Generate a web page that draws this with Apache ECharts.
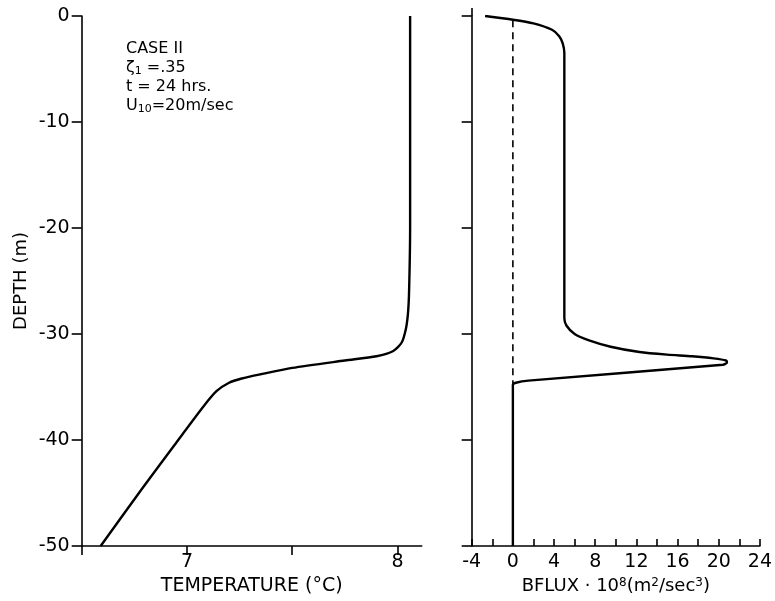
<!DOCTYPE html>
<html>
<head>
<meta charset="utf-8">
<script src="https://cdn.jsdelivr.net/npm/echarts@6/dist/echarts.min.js"></script>
<style>html,body{margin:0;padding:0;background:#fff}#c{width:775px;height:601px}</style>
</head>
<body>
<div id="c"></div>
<script>
// Depth ticks (m)
const depthTicks = [0, -10, -20, -30, -40, -50];
const tempTicks = [6.5, 7, 7.5, 8];
const tempLabels = [7, 8];
const bfluxTicks = [-4, -2, 0, 2, 4, 6, 8, 10, 12, 14, 16, 18, 20, 22, 24];
const bfluxLabels = [-4, 0, 4, 8, 12, 16, 20, 24];

// Temperature profile (°C) vs depth (m)
const tempDepth = [0, -10, -20, -26, -28, -29.5, -30.8, -31.6, -32.1, -32.5, -33.2, -33.8, -34.2, -34.6, -35.4, -36.8, -40.5, -44.5, -50];
const tempValue = [8.06, 8.06, 8.06, 8.055, 8.05, 8.04, 8.02, 7.98, 7.9, 7.75, 7.5, 7.35, 7.26, 7.2, 7.14, 7.08, 6.94, 6.79, 6.59];

// Buoyancy flux (x1e8 m^2/s^3) vs depth (m)
const bfluxDepth = [0, -0.35, -0.7, -1.3, -1.9, -2.6, -3.5, -10, -20, -28.5, -29.2, -30, -30.6, -31.2, -31.7, -31.95, -32.1, -32.3, -32.5, -32.7, -32.9, -34.4, -34.6, -34.8, -50];
const bfluxValue = [-2.7, 0, 2, 3.8, 4.5, 4.85, 5, 5, 5, 5, 5.2, 6, 7.4, 9.5, 12.3, 15, 17.4, 19.5, 20.7, 20.8, 20.4, 1.5, 0.3, 0, 0];

// Zero reference (dashed)
const zeroDepth = [-0.4, -34.7];
const zeroValue = [0, 0];

const zip = (xs, ys) => xs.map((x, i) => [x, ys[i]]);

const FONT = 'DejaVu Sans';
const LINE = { color: '#000', width: 1.6 };
const axisCommon = {
  axisLine: { show: true, onZero: false, lineStyle: LINE },
  splitLine: { show: false },
  axisLabel: { color: '#000', fontFamily: FONT, fontSize: 19 },
  nameTextStyle: { color: '#000', fontFamily: FONT, fontSize: 19 }
};

const chart = echarts.init(document.getElementById('c'), null, { renderer: 'canvas' });
chart.setOption({
  backgroundColor: '#fff',
  animation: false,
  grid: [
    { left: 81.7, top: 16, width: 340, height: 530 },
    { left: 471.7, top: 16, width: 290.6, height: 530 }
  ],
  xAxis: [
    Object.assign({}, axisCommon, {
      gridIndex: 0, type: 'value', min: 6.5, max: 8.115,
      axisTick: { show: true, inside: false, length: 9, customValues: tempTicks, lineStyle: LINE },
      axisLabel: Object.assign({}, axisCommon.axisLabel, { customValues: tempLabels, margin: 7 }),
      name: 'TEMPERATURE (°C)', nameLocation: 'middle', nameGap: 30
    }),
    Object.assign({}, axisCommon, {
      gridIndex: 1, type: 'value', min: -4, max: 24,
      axisTick: { show: true, inside: true, length: 7, customValues: bfluxTicks, lineStyle: LINE },
      axisLabel: Object.assign({}, axisCommon.axisLabel, { customValues: bfluxLabels, margin: 7 }),
      name: 'BFLUX · 10{sup|8}(m{sup|2}/sec{sup|3})', nameLocation: 'middle', nameGap: 30,
      nameTextStyle: Object.assign({}, axisCommon.nameTextStyle, {
        fontSize: 18,
        rich: {
          sup: { fontSize: 12, verticalAlign: 'top', color: '#000', fontFamily: FONT, padding: [0, 0, 7, 0] }
        }
      })
    }),
    {
      gridIndex: 1, type: 'value', min: -4, max: 24,
      axisLine: { show: false },
      splitLine: { show: false },
      axisTick: { show: true, inside: false, length: 8, customValues: [-4], lineStyle: LINE },
      axisLabel: { show: false }
    }
  ],
  yAxis: [
    Object.assign({}, axisCommon, {
      gridIndex: 0, type: 'value', min: -50, max: 0, interval: 10,
      axisTick: { show: true, inside: false, length: 10, lineStyle: LINE },
      axisLabel: Object.assign({}, axisCommon.axisLabel, { margin: 12 }),
      name: 'DEPTH (m)', nameLocation: 'middle', nameGap: 51,
      nameTextStyle: Object.assign({}, axisCommon.nameTextStyle, { fontSize: 18 })
    }),
    Object.assign({}, axisCommon, {
      gridIndex: 1, type: 'value', min: -50, max: 0, interval: 10,
      axisTick: { show: true, inside: false, length: 10, lineStyle: LINE },
      axisLabel: { show: false }
    })
  ],
  series: [
    {
      type: 'line', xAxisIndex: 0, yAxisIndex: 0, data: zip(tempValue, tempDepth),
      showSymbol: false, smooth: 0.25, lineStyle: { color: '#000', width: 2.4 }
    },
    {
      type: 'line', xAxisIndex: 1, yAxisIndex: 1, data: zip(bfluxValue, bfluxDepth),
      showSymbol: false, smooth: 0.25, lineStyle: { color: '#000', width: 2.4 }
    },
    {
      type: 'line', xAxisIndex: 1, yAxisIndex: 1, data: zip(zeroValue, zeroDepth),
      showSymbol: false, lineStyle: { color: '#000', width: 1.6, type: [7, 5] }
    }
  ],
  graphic: [
    {
      type: 'text', left: 126, top: 39,
      style: {
        text: 'CASE II\nζ{sub|1} =.35\nt = 24 hrs.\nU{sub|10}=20m/sec',
        fontFamily: FONT, fontSize: 16, lineHeight: 19, fill: '#000',
        rich: { sub: { fontSize: 11, verticalAlign: 'bottom', fontFamily: FONT, fill: '#000', lineHeight: 19 } }
      }
    }
  ]
});
</script>
</body>
</html>
